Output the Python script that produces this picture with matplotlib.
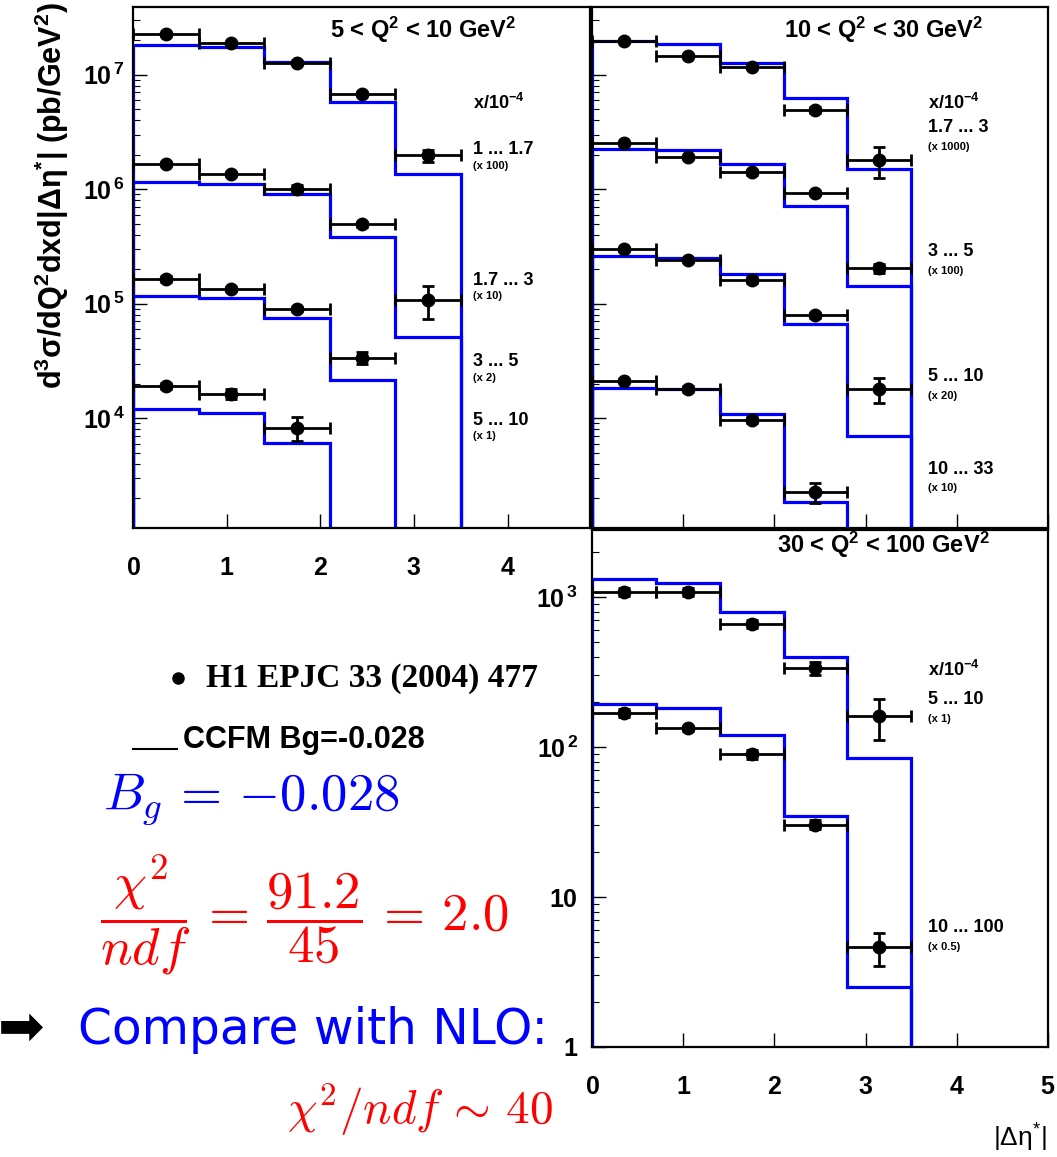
import numpy as np
import matplotlib
matplotlib.use("Agg")
import matplotlib.pyplot as plt
from matplotlib.lines import Line2D
from matplotlib.ticker import FixedLocator, LogLocator, NullFormatter, NullLocator, FixedFormatter

plt.rcParams["font.family"] = "Liberation Sans"
plt.rcParams["mathtext.fontset"] = "custom"
plt.rcParams["mathtext.rm"] = "Liberation Sans"
plt.rcParams["mathtext.it"] = "Liberation Sans:italic"
plt.rcParams["mathtext.bf"] = "Liberation Sans:bold"

# |Δη*| bins
edges = [0.0, 0.7, 1.4, 2.1, 2.8, 3.5]

# ── 5 < Q2 < 10 ──────────────────────────────────────────────
q1_title = r"5 < Q$^{\mathbf{2}}$ < 10 GeV$^{\mathbf{2}}$"
q1_xbins = ["1 ... 1.7", "1.7 ... 3", "3 ... 5", "5 ... 10"]
q1_scale = ["(x 100)", "(x 10)", "(x 2)", "(x 1)"]
q1_data = [[2.26e7, 1.88e7, 1.27e7, 6.85e6, 1.97e6],
           [1.67e6, 1.37e6, 1.00e6, 4.95e5, 1.08e5],
           [1.64e5, 1.34e5, 8.93e4, 3.35e4],
           [1.93e4, 1.63e4, 8.28e3]]
q1_err = [[0.03, 0.03, 0.03, 0.04, 0.12],
          [0.04, 0.04, 0.08, 0.05, 0.32],
          [0.06, 0.04, 0.04, 0.12],
          [0.06, 0.10, 0.24]]
q1_ccfm = [[1.80e7, 1.73e7, 1.30e7, 5.8e6, 1.35e6],
           [1.16e6, 1.12e6, 9.06e5, 3.83e5, 5.14e4],
           [1.16e5, 1.12e5, 7.5e4, 2.16e4],
           [1.21e4, 1.12e4, 6.1e3]]

# ── 10 < Q2 < 30 ─────────────────────────────────────────────
q2_title = r"10 < Q$^{\mathbf{2}}$ < 30 GeV$^{\mathbf{2}}$"
q2_xbins = ["1.7 ... 3", "3 ... 5", "5 ... 10", "10 ... 33"]
q2_scale = ["(x 1000)", "(x 100)", "(x 20)", "(x 10)"]
q2_data = [[1.97e7, 1.47e7, 1.17e7, 4.94e6, 1.79e6],
           [2.51e6, 1.90e6, 1.40e6, 9.33e5, 2.04e5],
           [2.99e5, 2.39e5, 1.60e5, 7.94e4, 1.81e4],
           [2.12e4, 1.81e4, 9.66e3, 2.26e3]]
q2_err = [[0.03, 0.03, 0.03, 0.06, 0.30],
          [0.03, 0.03, 0.05, 0.04, 0.10],
          [0.03, 0.04, 0.06, 0.05, 0.25],
          [0.03, 0.06, 0.06, 0.20]]
q2_ccfm = [[1.97e7, 1.84e7, 1.26e7, 6.27e6, 1.50e6],
           [2.26e6, 2.20e6, 1.65e6, 7.2e5, 1.44e5],
           [2.60e5, 2.53e5, 1.81e5, 6.7e4, 7.05e3],
           [1.84e4, 1.81e4, 1.09e4, 1.84e3]]

# ── 30 < Q2 < 100 ────────────────────────────────────────────
q3_title = r"30 < Q$^{\mathbf{2}}$ < 100 GeV$^{\mathbf{2}}$"
q3_xbins = ["5 ... 10", "10 ... 100"]
q3_scale = ["(x 1)", "(x 0.5)"]
q3_data = [[1.08e3, 1.08e3, 664, 337, 160],
           [168, 133, 89.6, 30.4, 4.63]]
q3_err = [[0.06, 0.06, 0.06, 0.10, 0.30],
          [0.06, 0.04, 0.07, 0.07, 0.25]]
q3_ccfm = [[1.32e3, 1.25e3, 798, 400, 84.4],
           [194, 181, 120, 34.8, 2.52]]

W, H = 1057, 1157


def draw(ax, data, err, ccfm):
    for d, e, m in zip(data, err, ccfm):
        n = len(m)
        ax.stairs(m, edges[:n + 1], baseline=1e-6, color="#0000ff", lw=2.3, zorder=2)
        n = len(d)
        x = [(edges[i] + edges[i + 1]) / 2 for i in range(n)]
        y = np.array(d)
        ax.errorbar(x, y, xerr=0.35, yerr=np.array(e) * y, fmt="o", color="k",
                    ms=9, lw=2, capsize=4.5, capthick=2, zorder=3)
    ax.set_yscale("log")
    ax.tick_params(which="both", direction="in", labelsize=18)
    ax.tick_params(which="major", length=10, width=1)
    ax.tick_params(which="minor", length=5, width=0.8)
    ax.xaxis.set_major_locator(FixedLocator([0, 1, 2, 3, 4, 5]))
    ax.xaxis.set_minor_locator(NullLocator())
    ax.yaxis.set_minor_locator(LogLocator(subs=np.arange(2, 10)))
    ax.yaxis.set_minor_formatter(NullFormatter())
    for s in ax.spines.values():
        s.set_linewidth(1.6)


def labels(ax, xpos, ys, names, scales, head_y, gap=0.034):
    ax.text(xpos, head_y, r"x/10$^{\mathbf{-4}}$", transform=ax.transAxes,
            weight="bold", size=13, va="center")
    for y, nm, sc in zip(ys, names, scales):
        ax.text(xpos, y, nm, transform=ax.transAxes, weight="bold", size=13, va="center")
        ax.text(xpos, y - gap, sc, transform=ax.transAxes, weight="bold", size=8,
                va="center")


fig = plt.figure(figsize=(W / 100, H / 100), dpi=100)
ax1 = fig.add_axes([133 / W, 1 - 528 / H, 457 / W, 521 / H])
ax2 = fig.add_axes([592 / W, 1 - 528 / H, 456 / W, 521 / H])
ax3 = fig.add_axes([592 / W, 1 - 1047 / H, 456 / W, 517 / H])

draw(ax1, q1_data, q1_err, q1_ccfm)
draw(ax2, q2_data, q2_err, q2_ccfm)
draw(ax3, q3_data, q3_err, q3_ccfm)

for ax in (ax1, ax2):
    ax.set_ylim(1.1e3, 3.9e7)
    ax.yaxis.set_major_locator(FixedLocator([1e4, 1e5, 1e6, 1e7]))
ax1.yaxis.set_major_formatter(FixedFormatter([r"$\mathbf{10^{\,4}}$", r"$\mathbf{10^{\,5}}$",
                                              r"$\mathbf{10^{\,6}}$", r"$\mathbf{10^{\,7}}$"]))
ax1.set_xlim(0, 4.88)
ax1.xaxis.set_major_formatter(FixedFormatter([r"$\mathbf{%d}$" % i for i in range(6)]))
ax1.tick_params(axis="x", pad=20)
ax1.tick_params(axis="y", pad=6)
ax2.set_xlim(0, 5)
ax2.tick_params(labelleft=False, labelbottom=False)

ax3.set_xlim(0, 5)
ax3.set_ylim(1, 2.8e3)
ax3.yaxis.set_major_locator(FixedLocator([1, 10, 100, 1000]))
ax3.yaxis.set_major_formatter(FixedFormatter([r"$\mathbf{1}$", r"$\mathbf{10}$",
                                              r"$\mathbf{10^{\,2}}$", r"$\mathbf{10^{\,3}}$"]))
ax3.xaxis.set_major_formatter(FixedFormatter([r"$\mathbf{%d}$" % i for i in range(6)]))
ax3.tick_params(axis="x", pad=20)
ax3.tick_params(axis="y", pad=10)

# panel annotations
ax1.text(0.636, 0.956, q1_title, transform=ax1.transAxes, weight="bold", size=17,
         ha="center", va="center")
labels(ax1, 0.744, [0.726, 0.476, 0.319, 0.207], q1_xbins, q1_scale, 0.816, gap=0.031)
ax2.text(0.640, 0.956, q2_title, transform=ax2.transAxes, weight="bold", size=17,
         ha="center", va="center")
labels(ax2, 0.737, [0.768, 0.530, 0.290, 0.113], q2_xbins, q2_scale, 0.816, gap=0.036)
ax3.text(0.640, 0.971, q3_title, transform=ax3.transAxes, weight="bold", size=17,
         ha="center", va="center")
labels(ax3, 0.737, [0.673, 0.232], q3_xbins, q3_scale, 0.729, gap=0.039)

# axis titles
fig.text(52 / W, 1 - 2 / H,
         r"d$^{\mathbf{3}}$σ/dQ$^{\mathbf{2}}$dxd|Δη$^{\mathbf{*}}$| (pb/GeV$^{\mathbf{2}}$)",
         rotation=90, weight="bold", size=22, ha="center", va="top")
fig.text(1047 / W, 1 - 1138 / H, r"|Δη$^{*}$|", size=19, ha="right", va="center")

# legend block
fig.add_artist(Line2D([178 / W], [1 - 678 / H], marker="o", ms=8, color="k",
                      transform=fig.transFigure))
fig.text(206 / W, 1 - 678 / H, "H1 EPJC 33 (2004) 477", family="Liberation Serif",
         weight="bold", size=24, va="center")
fig.add_artist(Line2D([133 / W, 177 / W], [1 - 749 / H] * 2, color="k", lw=1.5,
                      transform=fig.transFigure))
fig.text(183 / W, 1 - 740 / H, "CCFM Bg=-0.028", weight="bold", size=22, va="center")

fig.text(103 / W, 1 - 800 / H, r"$B_g\,=\,{-}0.028$", color="#0000ff", size=38,
         math_fontfamily="cm", va="center")
fig.text(100 / W, 1 - 915 / H, r"$\dfrac{\chi^2}{ndf}\,=\,\dfrac{91.2}{45}\,=\,2.0$",
         color="red", size=38, math_fontfamily="cm", va="center")
fig.text(-2 / W, 1 - 1030 / H, "➡", family="DejaVu Sans", size=40, va="center")
fig.text(78 / W, 1 - 1030 / H, "Compare with NLO:", color="#0000ff", family="DejaVu Sans",
         size=35, va="center")
fig.text(553 / W, 1 - 1110 / H, r"$\chi^2/ndf\,\sim\,40$", color="red", size=34,
         math_fontfamily="cm", ha="right", va="center")

fig.savefig("out.png", dpi=100)
